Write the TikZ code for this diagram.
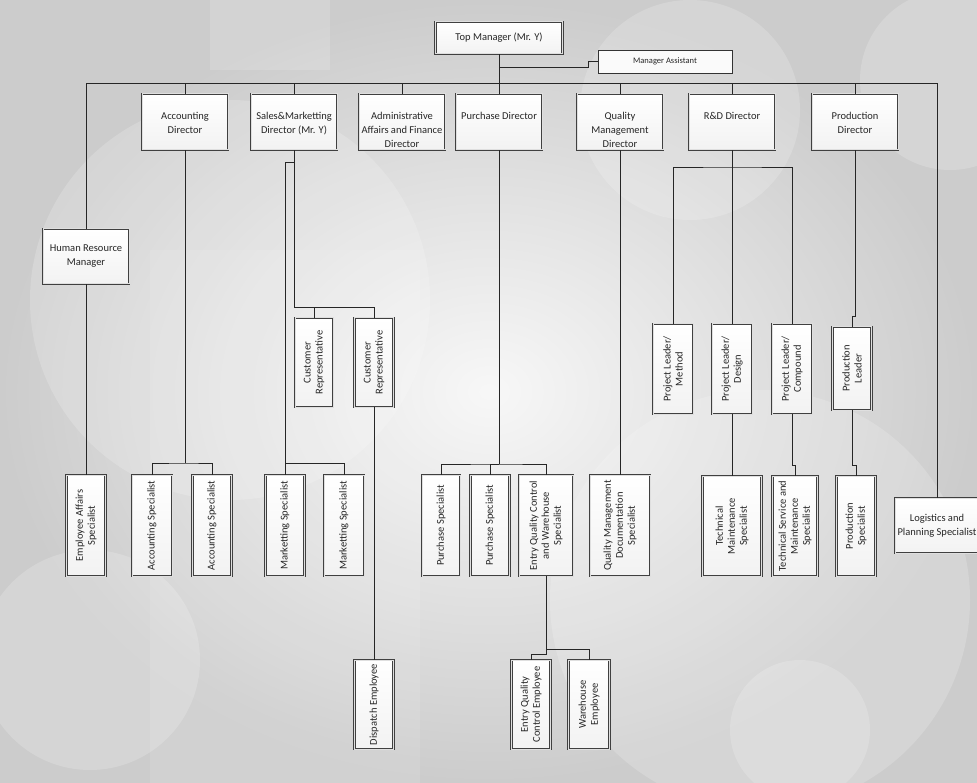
\documentclass[tikz,border=0pt]{standalone}
\usepackage{fontspec}
\setmainfont{Carlito}
\newcommand{\dirtxt}[1]{\parbox[c][52pt][t]{82pt}{\centering\vspace*{14pt}\strut #1}}
\tikzset{
  box/.style={draw=gray!50!black, line width=0.9pt, double=gray!25, double distance=1pt,
    top color=white, bottom color=gray!10, text=black!85, inner sep=1pt,
    font=\fontsize{10.5}{14}\selectfont},
  abox/.style={draw=gray!40!black, line width=0.8pt, fill=white!96!gray, text=black!85,
    font=\fontsize{8.5}{10}\selectfont},
  dirbox/.style={box, minimum width=86pt, minimum height=56pt},
  vbox/.style 2 args={box, rotate=90, align=center, font=\fontsize{10.5}{12}\selectfont,
    minimum width=#1, minimum height=#2},
  conn/.style={draw=gray!30!black, line width=0.8pt},
  bgcircle/.style={fill=white, opacity=0.18}
}
\begin{document}
\begin{tikzpicture}[x=1pt,y=-1pt]
  \useasboundingbox (0,0) rectangle (977,783);
  %sfondo
  \shade[inner color=gray!6, outer color=gray!40] (0,0) rectangle (977,783);
  \fill[white,opacity=0.15] (210,0) rectangle (330,70);
  \fill[white,opacity=0.10] (150,250) rectangle (420,783);
  \foreach \cx/\cy/\r in {230/300/200, 690/110/110, 950/80/90, 90/660/110, 760/600/210, 800/730/70}
    \fill[bgcircle] (\cx,\cy) circle[radius=\r];

  %vertice
  \node[box, minimum width=127pt, minimum height=32pt] (tm) at (499,38) {Top Manager (Mr. Y)};
  \node[abox, minimum width=134pt, minimum height=23pt] (ma) at (665,61.5) {Manager Assistant};

  %direttori
  \node[dirbox] (acc) at (185,122) {\dirtxt{Accounting\\Director}};
  \node[dirbox] (sal) at (294,122) {\dirtxt{Sales\&Marketting\\Director (Mr. Y)}};
  \node[dirbox] (adm) at (402,122) {\dirtxt{Administrative\\Affairs and Finance\\Director}};
  \node[dirbox] (pur) at (499,122) {\dirtxt{Purchase Director}};
  \node[dirbox] (qua) at (620,122) {\dirtxt{Quality\\Management\\Director}};
  \node[dirbox] (rnd) at (732,122) {\dirtxt{R\&D Director}};
  \node[dirbox] (prd) at (855,122) {\dirtxt{Production\\Director}};
  \node[box, minimum width=86pt, minimum height=55pt, align=center] (hr) at (86,256.5) {Human Resource\\Manager};
  \node[box, minimum width=84pt, minimum height=55pt, align=center] (log) at (937,525.5) {Logistics and\\Planning Specialist};

  %livello intermedio
  \node[vbox={89pt}{38pt}] (cr1) at (314,362.5) {Customer\\Representative};
  \node[vbox={89pt}{39pt}] (cr2) at (374,362.5) {Customer\\Representative};
  \node[vbox={90pt}{40pt}] (plm) at (673,369) {Project Leader/\\Method};
  \node[vbox={90pt}{40pt}] (pld) at (732,369) {Project Leader/\\Design};
  \node[vbox={90pt}{40pt}] (plc) at (792,369) {Project Leader/\\Compound};
  \node[vbox={83pt}{39pt}] (pl) at (852,368.5) {Production\\Leader};

  %specialisti
  \node[vbox={101pt}{39pt}] (eas) at (86,525.5) {Employee Affairs\\Specialist};
  \node[vbox={101pt}{40pt}] (as1) at (152,525.5) {Accounting Specialist};
  \node[vbox={101pt}{39pt}] (as2) at (212,525.5) {Accounting Specialist};
  \node[vbox={101pt}{39pt}] (ms1) at (285,525.5) {Marketting Specialist};
  \node[vbox={101pt}{40pt}] (ms2) at (344,525.5) {Marketting Specialist};
  \node[vbox={101pt}{38pt}] (ps1) at (441,525.5) {Purchase Specialist};
  \node[vbox={101pt}{39pt}] (ps2) at (490,525.5) {Purchase Specialist};
  \node[vbox={101pt}{54pt}] (eqw) at (546,525.5) {Entry Quality Control\\and Warehouse\\Specialist};
  \node[vbox={101pt}{60pt}] (qmd) at (620,525.5) {Quality Management\\Documentation\\Specialist};
  \node[vbox={100pt}{59pt}] (tms) at (732,526) {Technical\\Maintenance\\Specialist};
  \node[vbox={100pt}{45pt}] (tsm) at (795,526) {Technical Service and\\Maintenance\\Specialist};
  \node[vbox={100pt}{39pt}] (psp) at (856,526) {Production\\Specialist};

  %impiegati
  \node[vbox={89pt}{39pt}] (de) at (374,704.5) {Dispatch Employee};
  \node[vbox={89pt}{39pt}] (eqe) at (531,704.5) {Entry Quality\\Control Employee};
  \node[vbox={89pt}{41pt}] (we) at (589,704.5) {Warehouse\\Employee};

  %punti di snodo
  \coordinate (busL) at (86,83);
  \coordinate (busR) at (937,83);
  \coordinate (maJ) at (588,67);
  \coordinate (accB) at (185,463);
  \coordinate (salA) at (294,307);
  \coordinate (salM) at (294,162);
  \coordinate (mkB) at (285,463);
  \coordinate (purB) at (499,464);
  \coordinate (eqwB) at (546,649);
  \coordinate (eqwC) at (546,654);
  \coordinate (rndB) at (732,167);
  \coordinate (plcJ) at (792,465);
  \coordinate (prdJ) at (855,316);
  \coordinate (plJ) at (852,465);

  %collegamenti
  \draw[conn] (tm) -- (tm |- busL);
  \draw[conn] (tm |- maJ) -- (maJ) |- (ma.west);
  \draw[conn] (hr) |- (busL) -- (busR) -| (log);
  \foreach \d in {acc,sal,adm,pur,qua,rnd,prd}
    \draw[conn] (\d) -- (\d |- busL);
  \draw[conn] (hr) -- (eas);
  \draw[conn] (acc) -- (accB);
  \draw[conn] (as1) |- (accB) -| (as2);
  \draw[conn] (sal) -- (salA) -| (cr2);
  \draw[conn] (salA) -| (cr1);
  \draw[conn] (salM) -| (mkB) -| (ms2);
  \draw[conn] (mkB) -- (ms1);
  \draw[conn] (cr2) -- (de);
  \draw[conn] (pur) -- (purB);
  \draw[conn] (ps1) |- (purB) -| (eqw);
  \draw[conn] (purB) -| (ps2);
  \draw[conn] (eqw) -- (eqwB) -| (we);
  \draw[conn] (eqwB) -- (eqwC) -| (eqe);
  \draw[conn] (qua) -- (qmd);
  \draw[conn] (rnd) -- (rndB);
  \draw[conn] (plm) |- (rndB) -| (plc);
  \draw[conn] (rndB) -- (pld);
  \draw[conn] (pld) -- (tms);
  \draw[conn] (plc) -- (plcJ) -| (tsm);
  \draw[conn] (prd) -- (prdJ) -| (pl);
  \draw[conn] (pl) -- (plJ) -| (psp);
\end{tikzpicture}
\end{document}
